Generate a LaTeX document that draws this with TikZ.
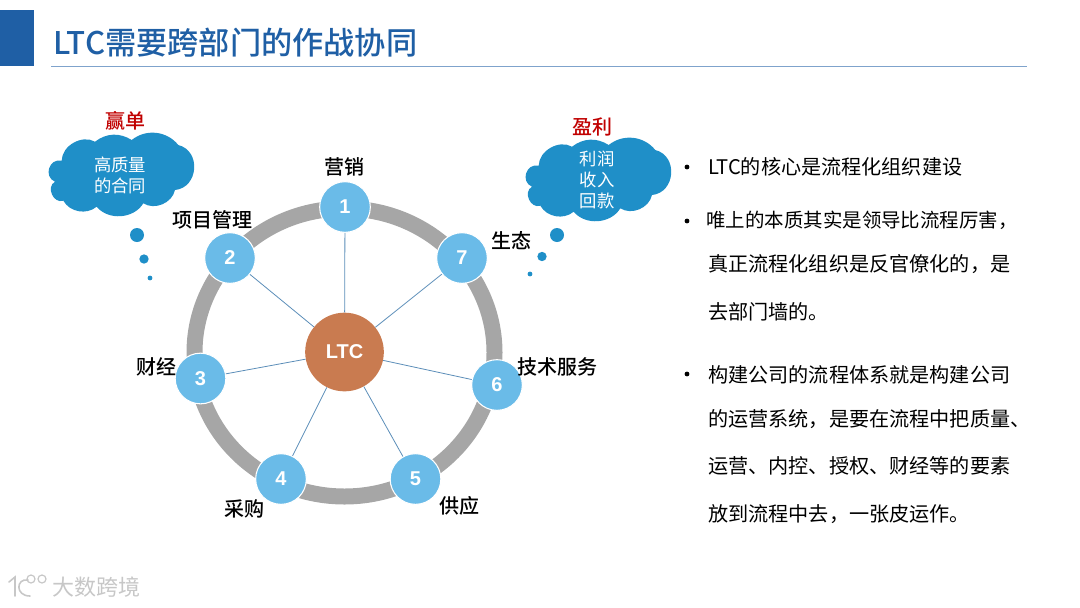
\documentclass[tikz,border=0pt]{standalone}
\usepackage{fontspec}
\setmainfont{Noto Sans CJK SC}
\newfontfamily\labf{Noto Sans CJK SC Medium}
\newfontfamily\bodyf{Noto Sans CJK SC}
\newfontfamily\numf{Liberation Sans}
\definecolor{titleblue}{HTML}{1F5FA5}
\definecolor{rulecol}{HTML}{7FA3CC}
\definecolor{cloudblue}{HTML}{1F8FC8}
\definecolor{ballblue}{HTML}{6ABBE8}
\definecolor{hubcol}{HTML}{C97B50}
\definecolor{ringgray}{HTML}{A6A6A6}
\definecolor{spoke}{HTML}{5B8DB8}
\definecolor{redlab}{HTML}{C00000}
\tikzset{
  x=0.75pt,y=-0.75pt,
  ball/.style={circle,fill=ballblue,draw=white,line width=0.8pt,minimum size=38pt,inner sep=0pt,text=white,font=\numf\bfseries\fontsize{15}{15}\selectfont},
  hub/.style={circle,fill=hubcol,minimum size=59pt,inner sep=0pt,text=white,font=\numf\bfseries\fontsize{15}{15}\selectfont},
  spokeline/.style={spoke,line width=0.6pt},
  lab/.style={inner sep=0pt,font=\labf\fontsize{15}{15}\selectfont,text=black},
  redl/.style={inner sep=0pt,font=\labf\fontsize{15}{15}\selectfont,text=redlab},
  cloudtxt/.style={inner sep=0pt,font=\fontsize{13}{13}\selectfont,text=white},
  body/.style={anchor=west,inner sep=0pt,font=\bodyf\fontsize{15.1}{15}\selectfont,text=black},
  bul/.style={circle,fill=black,minimum size=3.6pt,inner sep=0pt},
  thought/.style={circle,fill=cloudblue,inner sep=0pt}
}
\newcommand{\cloudshape}[2]{%
  \fill[cloudblue,shift={(#1,#2)}]
    (61.7,160.7) to[bend left=60] (95,141.7) to[bend left=35] (131.7,140)
    to[bend left=45] (178.3,145) to[bend left=80,looseness=1.35] (175,190)
    to[bend left=55] (143.3,203.3) to[bend left=55] (96.7,206.7)
    to[bend left=50] (63.3,200.7) to[bend left=85,looseness=1.3] (55,181.7)
    to[bend left=85,looseness=1.5] (61.7,160.7) -- cycle;}
\begin{document}
\begin{tikzpicture}
\useasboundingbox (0,0) rectangle (1080,607);
% header
\fill[titleblue] (0,10) rectangle (34,66);
\draw[rulecol,line width=0.7pt] (51,66) -- (1027,66);
\node[anchor=west,inner sep=0pt,text=titleblue,font=\labf\fontsize{23.4}{23.4}\selectfont] (title) at (53.5,43) {LTC需要跨部门的作战协同};
% ring
\draw[ringgray,line width=12pt] (344.5,352.5) ellipse [x radius=150,y radius=144];
% hub and stations
\node[hub] (hubn) at (344.5,352) {LTC};
\node[ball] (n1) at (345,207) {1};
\node[ball] (n2) at (230,258) {2};
\node[ball] (n3) at (200.5,378.5) {3};
\node[ball] (n4) at (281,479) {4};
\node[ball] (n5) at (415.5,479) {5};
\node[ball] (n6) at (497,385) {6};
\node[ball] (n7) at (462,258) {7};
\foreach \k in {1,...,7}{\draw[spokeline] (hubn) -- (n\k);}
% labels
\node[lab] (l1) at (344,167) {营销};
\node[lab] (l2) at (212,220) {项目管理};
\node[lab] (l3) at (156,367) {财经};
\node[lab] (l4) at (244,509) {采购};
\node[lab] (l5) at (459,506) {供应};
\node[lab] (l6) at (557,367) {技术服务};
\node[lab] (l7) at (511,241) {生态};
% clouds
\cloudshape{0}{0}
\cloudshape{477}{5}
\node[redl] (r1) at (125,121) {赢单};
\node[redl] (r2) at (592,127) {盈利};
\node[cloudtxt] (c11) at (120,165) {高质量};
\node[cloudtxt] (c12) at (120,186) {的合同};
\node[cloudtxt] (c21) at (597,159) {利润};
\node[cloudtxt] (c22) at (597,180) {收入};
\node[cloudtxt] (c23) at (597,201) {回款};
% thought bubbles
\node[thought,minimum size=10.5pt] (t11) at (137,235) {};
\node[thought,minimum size=7pt] (t12) at (144,259) {};
\node[thought,minimum size=3.6pt] (t13) at (150,278) {};
\node[thought,minimum size=10.5pt] (t21) at (557,235) {};
\node[thought,minimum size=7pt] (t22) at (542,256.5) {};
\node[thought,minimum size=3.6pt] (t23) at (530,274) {};
% text
\node[bul] (b1) at (687,167) {};
\node[bul] (b2) at (687,221) {};
\node[bul] (b3) at (687,374) {};
\node[body] (s1) at (708,167) {LTC的核心是流程化组织建设};
\node[body,font=\bodyf\fontsize{14.6}{15}\selectfont] (s2) at (706,220) {唯上的本质其实是领导比流程厉害，};
\node[body] (s3) at (708,264) {真正流程化组织是反官僚化的，是};
\node[body] (s4) at (708,312) {去部门墙的。};
\node[body] (s5) at (708,375) {构建公司的流程体系就是构建公司};
\node[body] (s6) at (708,419) {的运营系统，是要在流程中把质量、};
\node[body] (s7) at (708,466) {运营、内控、授权、财经等的要素};
\node[body] (s8) at (708,514) {放到流程中去，一张皮运作。};
% watermark
\node[anchor=west,inner sep=0pt,text=black!22,font=\bodyf\fontsize{16.5}{16.5}\selectfont] (wm) at (52,587) {大数跨境};
\draw[black!22,line width=1.2pt,line cap=round]
  (9,582) -- (15,577) -- (15,596)
  (28,580) .. controls (16,578) and (15,596) .. (30,596);
\draw[black!22,line width=0.9pt] (31,579) circle [radius=4] (42,579) circle [radius=4];
\end{tikzpicture}
\end{document}
